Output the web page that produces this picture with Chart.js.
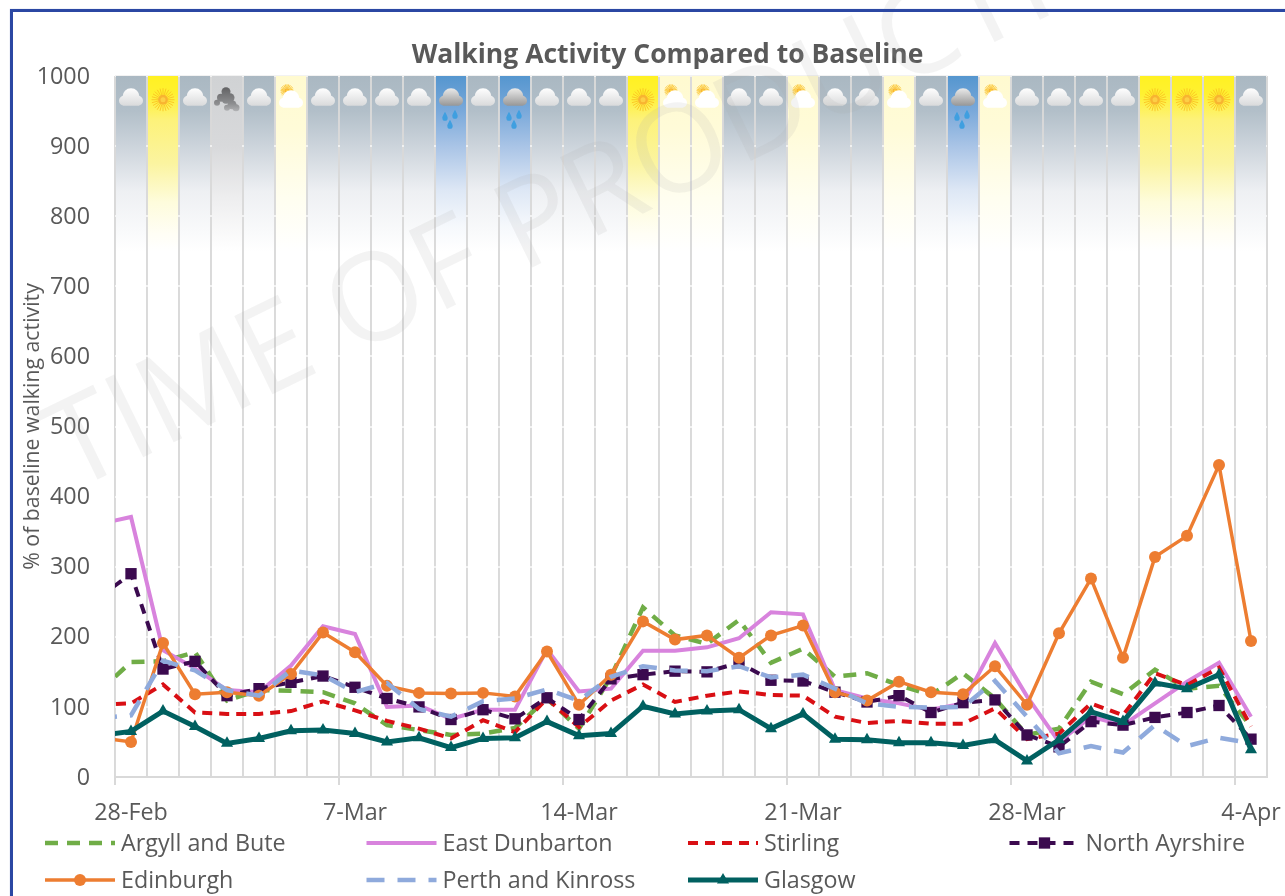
<!DOCTYPE html>
<html>
<head>
<meta charset="utf-8">
<title>Walking Activity Compared to Baseline</title>
<script src="https://cdn.jsdelivr.net/npm/chart.js@4"></script>
<style>
    html, body { margin: 0; padding: 0; background: #fff; overflow: hidden; }
    #wrap { position: relative; width: 1285px; height: 896px; }
    #wrap canvas { display: block; }
    #frame { position: absolute; left: 10px; top: 9px; right: -10px; bottom: -10px; border: 3px solid #2b47a3; box-shadow: 0 0 1px #aab6dc; }
</style>
</head>
<body>
<div id="wrap">
    <canvas id="chart" width="1285" height="896"></canvas>
    <div id="frame"></div>
</div>
<script>
// First label sits left of the axis minimum: the lines run in from outside the plot
const days = ['27-Feb', '28-Feb', '1-Mar', '2-Mar', '3-Mar', '4-Mar', '5-Mar', '6-Mar', '7-Mar', '8-Mar', '9-Mar',
    '10-Mar', '11-Mar', '12-Mar', '13-Mar', '14-Mar', '15-Mar', '16-Mar', '17-Mar', '18-Mar', '19-Mar', '20-Mar',
    '21-Mar', '22-Mar', '23-Mar', '24-Mar', '25-Mar', '26-Mar', '27-Mar', '28-Mar', '29-Mar', '30-Mar', '31-Mar',
    '1-Apr', '2-Apr', '3-Apr', '4-Apr'];

const argyll = [122, 164, 165, 178, 109, 124, 123, 121, 105, 74, 67, 60, 62, 70, 112, 69, 143, 242, 202, 190, 224, 163, 183, 143, 148, 131, 117, 148, 112, 60, 69, 136, 118, 153, 126, 130, 72];
const eastDunbarton = [361, 371, 181, 155, 124, 121, 159, 215, 204, 100, 102, 83, 96, 96, 182, 122, 126, 180, 180, 185, 198, 235, 232, 124, 112, 105, 96, 105, 191, 115, 50, 86, 74, 105, 136, 163, 86];
const stirling = [103, 105, 132, 92, 90, 90, 94, 108, 95, 80, 69, 55, 81, 64, 112, 71, 109, 132, 107, 116, 122, 117, 116, 86, 77, 80, 76, 76, 98, 54, 62, 105, 88, 148, 131, 156, 72];
const northAyrshire = [256, 290, 154, 165, 116, 126, 135, 144, 128, 112, 100, 82, 96, 83, 113, 82, 140, 146, 151, 150, 163, 138, 137, 121, 107, 116, 92, 106, 110, 60, 43, 79, 74, 85, 92, 102, 54];
const edinburgh = [56, 50, 191, 118, 121, 116, 147, 206, 178, 130, 120, 119, 120, 115, 179, 103, 146, 222, 196, 202, 170, 202, 216, 121, 109, 136, 121, 118, 158, 103, 205, 283, 170, 314, 344, 445, 194];
const perthKinross = [84, 88, 166, 152, 124, 116, 152, 145, 121, 134, 97, 86, 108, 112, 125, 109, 143, 158, 152, 151, 158, 142, 146, 126, 105, 100, 99, 100, 137, 86, 34, 44, 35, 74, 44, 56, 48];
const glasgow = [59, 65, 94, 72, 48, 55, 66, 67, 62, 50, 56, 42, 55, 56, 79, 59, 62, 101, 90, 94, 96, 69, 90, 54, 53, 49, 49, 45, 53, 23, 53, 93, 79, 134, 126, 146, 39];

const weather = [null, 'cloud', 'sun', 'cloud', 'fog', 'cloud', 'partly', 'cloud', 'cloud', 'cloud', 'cloud',
    'rain', 'cloud', 'rain', 'cloud', 'cloud', 'cloud', 'sun', 'partly', 'partly', 'cloud', 'cloud',
    'partly', 'cloud', 'cloud', 'partly', 'cloud', 'rain', 'partly', 'cloud', 'cloud', 'cloud', 'cloud',
    'sun', 'sun', 'sun', 'cloud'];
const bandTop = 1000;
const bandFade = 750;
const iconLevel = 969;

// Fill colours of the weather bands, top to bottom
const bandStops = {
    cloud: [[0, '#aab8c2'], [0.2, '#b2bfc9'], [0.43, '#d0d7de'], [0.66, '#eef0f3'], [0.89, '#f9fafb'], [1, '#ffffff']],
    sun: [[0, '#fff122'], [0.1, '#fff130'], [0.25, '#fdf27a'], [0.5, '#fbf4a0'], [0.72, '#fefcdc'], [0.9, '#fffef5'], [1, '#ffffff']],
    partly: [[0, '#fffad0'], [0.3, '#fffbd8'], [0.7, '#fffef0'], [1, '#ffffff']],
    rain: [[0, '#5596cf'], [0.2, '#7aa9da'], [0.4, '#a9c4e6'], [0.65, '#dde7f5'], [0.85, '#f5f8fc'], [1, '#ffffff']],
    fog: [[0, '#d0d2d4'], [0.4, '#d8d9db'], [0.7, '#eeeeef'], [1, '#ffffff']]
};

const FONT = '"Open Sans", sans-serif';
const TEXT = '#595959';

function bandColor(context) {
    const chart = context.chart;
    const type = weather[context.dataIndex];
    if (!type || !chart.chartArea) return 'transparent';
    const y = chart.scales.y;
    const g = chart.ctx.createLinearGradient(0, y.getPixelForValue(bandTop), 0, y.getPixelForValue(bandFade));
    bandStops[type].forEach(s => g.addColorStop(s[0], s[1]));
    return g;
}

function lineSet(label, data, color, width, dash, order, pointStyle, radius) {
    return {
        type: 'line',
        label: label,
        data: data,
        borderColor: color,
        backgroundColor: color,
        borderWidth: width,
        borderDash: dash,
        order: order,
        tension: 0,
        pointStyle: pointStyle || 'circle',
        pointRadius: radius || 0,
        pointBorderWidth: 0,
        pointHoverRadius: radius || 0
    };
}

// Cloud outline made of overlapping bumps
function cloudPath(ctx, x, y) {
    ctx.beginPath();
    ctx.arc(x - 7, y + 4, 5, 0, Math.PI * 2);
    ctx.arc(x + 7, y + 4, 5, 0, Math.PI * 2);
    ctx.moveTo(x + 7, y);
    ctx.arc(x, y, 8.5, 0, Math.PI * 2);
    ctx.rect(x - 8, y + 3, 16, 6);
    ctx.closePath();
}

function drawCloud(ctx, x, y, top, bottom) {
    const g = ctx.createLinearGradient(0, y - 9, 0, y + 9);
    g.addColorStop(0, top);
    g.addColorStop(1, bottom);
    ctx.fillStyle = g;
    cloudPath(ctx, x, y);
    ctx.fill('nonzero');
}

function drawSun(ctx, x, y, outer, inner) {
    ctx.strokeStyle = 'rgba(250, 190, 30, 0.8)';
    ctx.lineWidth = 1;
    for (let a = 0; a < 24; a++) {
        const t = a * Math.PI / 12;
        ctx.beginPath();
        ctx.moveTo(x + Math.cos(t) * inner, y + Math.sin(t) * inner);
        ctx.lineTo(x + Math.cos(t) * outer, y + Math.sin(t) * outer);
        ctx.stroke();
    }
    ctx.fillStyle = '#f8b431';
    ctx.beginPath();
    ctx.arc(x, y, inner, 0, Math.PI * 2);
    ctx.fill();
    ctx.fillStyle = '#fdcf45';
    ctx.beginPath();
    ctx.arc(x, y, inner * 0.5, 0, Math.PI * 2);
    ctx.fill();
}

function drawDrop(ctx, x, y) {
    ctx.fillStyle = '#3f9fe0';
    ctx.beginPath();
    ctx.moveTo(x, y - 5);
    ctx.quadraticCurveTo(x + 3.5, y + 1, x + 2.5, y + 2.5);
    ctx.arc(x, y + 1.5, 2.6, 0, Math.PI);
    ctx.quadraticCurveTo(x - 3.5, y + 1, x, y - 5);
    ctx.fill();
}

function drawFog(ctx, x, y) {
    const g = ctx.createLinearGradient(0, y - 12, 0, y + 18);
    g.addColorStop(0, '#5e5e60');
    g.addColorStop(0.6, '#8d8e90');
    g.addColorStop(1, '#c8c9cb');
    ctx.fillStyle = g;
    [[-1, -6, 4.5], [-6, 0, 4], [3, 0, 4.5], [-1, 2, 4], [5, 7, 4.5], [9, 10, 3.5], [0, 10, 3], [-10, 5, 3]].forEach(b => {
        ctx.beginPath();
        ctx.arc(x + b[0], y + b[1], b[2], 0, Math.PI * 2);
        ctx.fill();
    });
}

// Weather icons at the top of each band, placed through the scales
const weatherIcons = {
    id: 'weatherIcons',
    afterDatasetsDraw(chart) {
        const ctx = chart.ctx;
        const y = chart.scales.y.getPixelForValue(iconLevel);
        ctx.save();
        weather.forEach((type, i) => {
            if (!type) return;
            const x = chart.scales.x.getPixelForValue(i);
            if (type === 'cloud') {
                drawCloud(ctx, x, y - 1, '#ffffff', '#d9dadb');
            } else if (type === 'sun') {
                drawSun(ctx, x, y + 2, 11.5, 5);
            } else if (type === 'rain') {
                drawCloud(ctx, x, y - 1, '#ececec', '#979797');
                drawDrop(ctx, x - 6, y + 19);
                drawDrop(ctx, x + 4, y + 17);
                drawDrop(ctx, x - 1, y + 27);
            } else if (type === 'fog') {
                drawFog(ctx, x, y);
            } else if (type === 'partly') {
                drawSun(ctx, x - 4, y - 7, 6.5, 2.5);
                drawCloud(ctx, x, y + 1, '#ffffff', '#ffffff');
            }
        });
        ctx.restore();
    }
};

// Two-row legend under the axis, in fixed columns like the source chart
const gridLegend = {
    id: 'gridLegend',
    afterDraw(chart) {
        const ctx = chart.ctx;
        const lines = chart.data.datasets.filter(d => d.type === 'line');
        ctx.save();
        lines.forEach((d, i) => {
            const x = 45 + (i % 4) * 321.5;
            const y = 843 + Math.floor(i / 4) * 37;
            ctx.strokeStyle = d.borderColor;
            ctx.lineWidth = d.borderWidth;
            ctx.setLineDash(d.borderDash);
            ctx.beginPath();
            ctx.moveTo(x, y);
            ctx.lineTo(x + 70, y);
            ctx.stroke();
            ctx.setLineDash([]);
            if (d.pointRadius > 0) {
                ctx.fillStyle = d.borderColor;
                ctx.lineWidth = 0;
                Chart.helpers.drawPoint(ctx, { pointStyle: d.pointStyle, radius: d.pointRadius, rotation: 0, borderWidth: 0 }, x + 35, y);
            }
            ctx.fillStyle = TEXT;
            ctx.font = '23.3px ' + FONT;
            ctx.textAlign = 'left';
            ctx.textBaseline = 'middle';
            ctx.fillText(d.label, x + 76, y + 1);
        });
        ctx.restore();
    }
};

// Faint watermark across the plot
const watermark = {
    id: 'watermark',
    afterDraw(chart) {
        const ctx = chart.ctx;
        ctx.save();
        ctx.translate(72, 492);
        ctx.rotate(-26 * Math.PI / 180);
        ctx.fillStyle = 'rgba(170, 170, 170, 0.14)';
        ctx.font = '122px ' + FONT;
        ctx.textAlign = 'left';
        ctx.textBaseline = 'alphabetic';
        ctx.fillText('TIME OF PRODUCTION', 0, 0);
        ctx.restore();
    }
};

// The title is centred a little right of the canvas middle in the source chart
const titleShift = {
    id: 'titleShift',
    afterLayout(chart) {
        chart.titleBlock.left += 34;
        chart.titleBlock.right += 34;
    }
};

new Chart(document.getElementById('chart').getContext('2d'), {
    data: {
        labels: days,
        datasets: [
            {
                type: 'bar',
                label: 'Weather',
                data: weather.map(w => (w ? bandTop : null)),
                backgroundColor: bandColor,
                barPercentage: 0.94,
                categoryPercentage: 1,
                order: 100
            },
            lineSet('Argyll and Bute', argyll, '#70ad47', 4.5, [13, 9], 7),
            lineSet('East Dunbarton', eastDunbarton, '#d883dd', 4, [], 6),
            lineSet('Stirling', stirling, '#d90f14', 4, [10, 7], 5),
            lineSet('North Ayrshire', northAyrshire, '#3b0a4f', 4, [10, 8], 4, 'rect', 8),
            lineSet('Edinburgh', edinburgh, '#ed7d31', 3.5, [], 3, 'circle', 6),
            lineSet('Perth and Kinross', perthKinross, '#8faadc', 4.5, [18, 13], 2),
            lineSet('Glasgow', glasgow, '#006060', 5, [], 1, 'triangle', 7)
        ]
    },
    options: {
        responsive: false,
        animation: false,
        layout: { padding: { left: 0, right: 18, top: 0, bottom: 0 } },
        plugins: {
            legend: { display: false },
            tooltip: { enabled: false },
            title: {
                display: true,
                text: 'Walking Activity Compared to Baseline',
                color: TEXT,
                font: { family: FONT, size: 26.5, weight: 'bold', lineHeight: 1.2 },
                padding: { top: 40, bottom: 4.2 }
            }
        },
        scales: {
            x: {
                type: 'category',
                min: 1,
                offset: true,
                border: { color: '#d9d9d9', width: 2 },
                grid: {
                    offset: true,
                    color: '#d9d9d9',
                    lineWidth: 2,
                    tickLength: 8,
                    tickColor: ctx => (ctx.index % 7 === 0 ? '#d9d9d9' : 'transparent')
                },
                ticks: {
                    autoSkip: false,
                    maxRotation: 0,
                    minRotation: 0,
                    color: TEXT,
                    padding: 14,
                    font: { family: FONT, size: 23.3 },
                    callback(value, index) {
                        return index % 7 === 0 ? this.getLabelForValue(value) : '';
                    }
                },
                afterFit(scale) {
                    scale.height = 119;
                    scale.paddingLeft = 0;
                    scale.paddingRight = 0;
                }
            },
            y: {
                min: 0,
                max: 1000,
                border: { display: false },
                grid: { color: '#f2f2f2', lineWidth: 2, drawTicks: false },
                ticks: {
                    stepSize: 100,
                    color: TEXT,
                    padding: 25,
                    labelOffset: 1,
                    font: { family: FONT, size: 23.3 },
                    callback: value => String(value)
                },
                title: {
                    display: true,
                    text: '% of baseline walking activity',
                    color: TEXT,
                    font: { family: FONT, size: 21.3 },
                    padding: { top: 20, bottom: 0 }
                },
                afterFit(scale) { scale.width = 115; }
            }
        }
    },
    plugins: [weatherIcons, gridLegend, watermark, titleShift]
});
</script>
</body>
</html>
